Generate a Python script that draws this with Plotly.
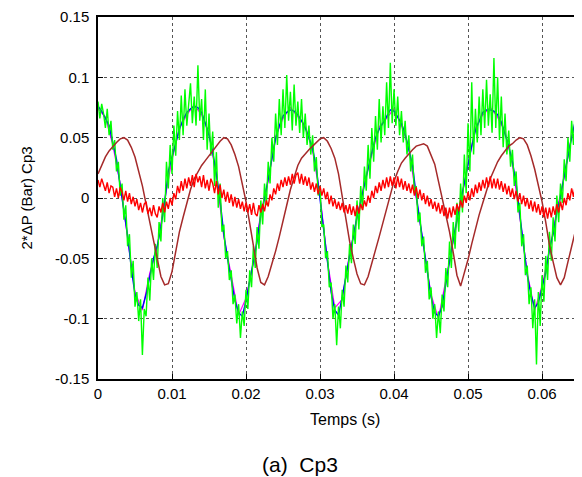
import plotly.graph_objects as go

# sampling steps (s)
DT_FINE = 0.00025
DT_MED = 0.0005
DT_COARSE = 0.001

# blue series (0.0005 s step)
blue_vals = [
    0.076, 0.072, 0.066, 0.060, 0.046, 0.032, 0.010, -0.010, -0.031, -0.058,
    -0.080, -0.089, -0.091, -0.080, -0.064, -0.050, -0.040, -0.024, -0.004, 0.022,
    0.034, 0.046, 0.057, 0.065, 0.071, 0.074, 0.076, 0.075, 0.071, 0.062,
    0.052, 0.038, 0.020, -0.002, -0.030, -0.050, -0.066, -0.085, -0.095, -0.098,
    -0.085, -0.068, -0.052, -0.036, -0.014, -0.001, 0.016, 0.034, 0.049, 0.060,
    0.068, 0.071, 0.073, 0.072, 0.069, 0.064, 0.058, 0.050, 0.041, 0.025,
    0.000, -0.030, -0.050, -0.078, -0.093, -0.097, -0.082, -0.064, -0.048, -0.032,
    -0.015, -0.003, 0.011, 0.026, 0.038, 0.050, 0.057, 0.062, 0.068, 0.073,
    0.072, 0.067, 0.062, 0.053, 0.040, 0.027, 0.002, -0.020, -0.040, -0.060,
    -0.082, -0.095, -0.098, -0.090, -0.070, -0.050, -0.034, -0.018, -0.003, 0.013,
    0.030, 0.043, 0.056, 0.064, 0.071, 0.073, 0.073, 0.072, 0.069, 0.063,
    0.053, 0.043, 0.030, 0.012, -0.014, -0.040, -0.064, -0.080, -0.091, -0.087,
    -0.075, -0.062, -0.042, -0.030, -0.012, 0.001, 0.019, 0.036, 0.050, 0.064,
    0.072, 0.076,
]

# magenta series (0.001 s step)
magenta_vals = [
    0.074, 0.067, 0.044, 0.012, -0.033, -0.078, -0.093, -0.062, -0.041, -0.002,
    0.032, 0.058, 0.069, 0.077, 0.069, 0.054, 0.018, -0.032, -0.064, -0.097,
    -0.083, -0.054, -0.012, 0.014, 0.051, 0.066, 0.075, 0.067, 0.060, 0.039,
    0.002, -0.052, -0.091, -0.084, -0.046, -0.017, 0.013, 0.036, 0.059, 0.066,
    0.074, 0.060, 0.042, 0.000, -0.042, -0.080, -0.100, -0.068, -0.036, -0.001,
    0.028, 0.058, 0.069, 0.075, 0.067, 0.055, 0.028, -0.016, -0.062, -0.093,
    -0.073, -0.044, -0.010, 0.017, 0.052, 0.070,
]

# green series (0.00025 s step)
green_vals = [
    0.080, 0.066, 0.078, 0.070, 0.058, 0.074, 0.052, 0.064, 0.040, 0.048,
    0.022, 0.030, 0.002, 0.012, -0.018, -0.006, -0.040, -0.030, -0.066, -0.052,
    -0.090, -0.078, -0.102, -0.084, -0.130, -0.092, -0.098, -0.066, -0.085, -0.050,
    -0.068, -0.038, -0.058, -0.020, -0.036, 0.000, -0.020, 0.030, 0.008, 0.044,
    0.020, 0.060, 0.035, 0.072, 0.048, 0.085, 0.052, 0.090, 0.060, 0.078,
    0.095, 0.062, 0.084, 0.060, 0.110, 0.064, 0.082, 0.048, 0.090, 0.040,
    0.070, 0.035, 0.055, 0.010, 0.038, -0.008, 0.012, -0.028, -0.022, -0.050,
    -0.044, -0.068, -0.060, -0.088, -0.080, -0.104, -0.088, -0.116, -0.094, -0.106,
    -0.076, -0.092, -0.060, -0.074, -0.040, -0.058, -0.024, -0.042, -0.002, -0.022,
    0.012, -0.006, 0.030, 0.012, 0.050, 0.030, 0.070, 0.044, 0.082, 0.052,
    0.090, 0.058, 0.102, 0.064, 0.088, 0.056, 0.094, 0.060, 0.080, 0.054,
    0.082, 0.050, 0.070, 0.044, 0.060, 0.036, 0.052, 0.022, 0.034, 0.002,
    0.010, -0.024, -0.022, -0.050, -0.044, -0.074, -0.070, -0.100, -0.088, -0.122,
    -0.090, -0.108, -0.076, -0.090, -0.056, -0.070, -0.038, -0.054, -0.022, -0.038,
    -0.002, -0.026, 0.010, -0.010, 0.026, 0.006, 0.044, 0.016, 0.058, 0.030,
    0.068, 0.040, 0.082, 0.046, 0.076, 0.052, 0.096, 0.058, 0.112, 0.062,
    0.090, 0.060, 0.084, 0.052, 0.072, 0.046, 0.064, 0.036, 0.052, 0.022,
    0.036, 0.004, 0.010, -0.020, -0.012, -0.040, -0.032, -0.062, -0.052, -0.084,
    -0.074, -0.100, -0.088, -0.116, -0.094, -0.112, -0.080, -0.094, -0.058, -0.074,
    -0.036, -0.058, -0.020, -0.042, -0.004, -0.028, 0.012, -0.012, 0.036, 0.004,
    0.062, 0.022, 0.096, 0.036, 0.074, 0.046, 0.084, 0.052, 0.090, 0.058,
    0.098, 0.060, 0.086, 0.054, 0.116, 0.058, 0.100, 0.048, 0.084, 0.042,
    0.070, 0.036, 0.056, 0.026, 0.040, 0.010, 0.022, -0.012, -0.004, -0.040,
    -0.030, -0.064, -0.056, -0.088, -0.074, -0.108, -0.084, -0.138, -0.078, -0.106,
    -0.064, -0.086, -0.048, -0.068, -0.028, -0.052, -0.016, -0.036, 0.002, -0.020,
    0.012, -0.004, 0.032, 0.014, 0.050, 0.030, 0.064, 0.044, 0.076, 0.056,
    0.084, 0.064, 0.080,
]

# brown series (0.0005 s step)
brown_vals = [
    0.020, 0.027, 0.034, 0.039, 0.043, 0.046, 0.049, 0.050, 0.048, 0.042,
    0.034, 0.022, 0.010, -0.005, -0.020, -0.036, -0.052, -0.065, -0.072, -0.071,
    -0.061, -0.044, -0.028, -0.016, -0.004, 0.007, 0.016, 0.022, 0.027, 0.031,
    0.035, 0.039, 0.044, 0.047, 0.050, 0.049, 0.044, 0.036, 0.026, 0.012,
    -0.003, -0.021, -0.040, -0.058, -0.070, -0.072, -0.065, -0.055, -0.044, -0.032,
    -0.020, -0.006, 0.007, 0.018, 0.027, 0.033, 0.037, 0.040, 0.043, 0.046,
    0.049, 0.050, 0.047, 0.041, 0.033, 0.020, 0.001, -0.020, -0.036, -0.050,
    -0.063, -0.071, -0.072, -0.065, -0.053, -0.043, -0.032, -0.020, -0.008, 0.003,
    0.014, 0.022, 0.029, 0.033, 0.037, 0.040, 0.043, 0.044, 0.045, 0.043,
    0.036, 0.028, 0.014, 0.000, -0.014, -0.028, -0.045, -0.064, -0.073, -0.063,
    -0.051, -0.038, -0.025, -0.014, -0.004, 0.006, 0.016, 0.023, 0.030, 0.035,
    0.039, 0.043, 0.045, 0.048, 0.050, 0.049, 0.044, 0.035, 0.024, 0.011,
    -0.003, -0.020, -0.039, -0.053, -0.066, -0.072, -0.066, -0.053, -0.040, -0.028,
    -0.014, -0.002,
]

# red series (0.00025 s step)
red_vals = [
    0.015, 0.009, 0.016, 0.011, 0.006, 0.013, 0.004, 0.010, 0.009, 0.001,
    0.008, 0.000, 0.009, 0.005, -0.002, 0.006, -0.003, 0.004, -0.005, 0.001,
    -0.007, -0.001, -0.010, -0.004, -0.012, -0.005, -0.003, -0.013, -0.008, -0.015,
    -0.006, -0.013, -0.016, -0.007, -0.012, -0.004, -0.012, -0.003, -0.009, 0.000,
    -0.006, 0.004, -0.001, 0.010, 0.004, 0.014, 0.006, 0.016, 0.008, 0.017,
    0.010, 0.019, 0.009, 0.020, 0.013, 0.018, 0.009, 0.019, 0.008, 0.015,
    0.006, 0.016, 0.012, 0.004, 0.014, 0.003, 0.011, 0.000, 0.007, -0.003,
    0.005, -0.004, 0.003, -0.007, 0.001, -0.008, -0.001, -0.009, -0.003, -0.011,
    -0.004, -0.012, -0.005, -0.014, -0.004, -0.013, -0.015, -0.006, -0.012, -0.005,
    -0.011, -0.002, -0.007, 0.003, -0.002, 0.008, 0.003, 0.012, 0.006, 0.015,
    0.009, 0.017, 0.010, 0.018, 0.011, 0.020, 0.012, 0.019, 0.021, 0.012,
    0.020, 0.011, 0.018, 0.010, 0.017, 0.007, 0.013, 0.005, 0.012, 0.003,
    0.010, 0.002, 0.008, -0.001, 0.005, -0.005, 0.002, -0.007, -0.001, -0.009,
    -0.003, -0.010, -0.004, -0.012, -0.006, -0.013, -0.005, -0.014, -0.007, -0.015,
    -0.006, -0.013, -0.005, -0.010, -0.002, -0.007, 0.002, -0.004, 0.006, 0.000,
    0.010, 0.004, 0.013, 0.006, 0.015, 0.008, 0.017, 0.009, 0.018, 0.010,
    0.017, 0.008, 0.018, 0.009, 0.016, 0.007, 0.014, 0.006, 0.012, 0.004,
    0.011, 0.002, 0.009, 0.000, 0.007, -0.002, 0.004, -0.005, 0.002, -0.007,
    -0.001, -0.009, -0.003, -0.011, -0.004, -0.013, -0.006, -0.015, -0.008, -0.017,
    -0.008, -0.016, -0.007, -0.014, -0.005, -0.011, -0.002, -0.008, 0.002, -0.004,
    0.005, -0.002, 0.008, 0.001, 0.011, 0.004, 0.013, 0.006, 0.015, 0.008,
    0.017, 0.009, 0.018, 0.008, 0.016, 0.008, 0.016, 0.007, 0.014, 0.005,
    0.012, 0.003, 0.010, 0.001, 0.008, -0.001, 0.006, -0.003, 0.004, -0.005,
    0.002, -0.007, 0.000, -0.009, -0.002, -0.011, -0.003, -0.012, -0.005, -0.014,
    -0.007, -0.016, -0.008, -0.017, -0.008, -0.016, -0.007, -0.014, -0.005, -0.012,
    -0.003, -0.010, 0.000, -0.006, 0.004, -0.002, 0.008, 0.001, 0.011, 0.004,
    0.014, 0.007, 0.017,
]

# axis ticks
x_tick_vals = [0, 0.01, 0.02, 0.03, 0.04, 0.05, 0.06]
x_tick_text = ["0", "0.01", "0.02", "0.03", "0.04", "0.05", "0.06"]
y_tick_vals = [-0.15, -0.1, -0.05, 0, 0.05, 0.1, 0.15]
y_tick_text = ["-0.15", "-0.1", "-0.05", "0", "0.05", "0.1", "0.15"]

x_title = "Temps (s)"
y_title = "2*ΔP (Bar) Cp3"
caption = "(a)\u00a0\u00a0Cp3"


def times(vals, dt):
    return [round(i * dt, 6) for i in range(len(vals))]


fig = go.Figure()
fig.add_trace(go.Scatter(x=times(magenta_vals, DT_COARSE), y=magenta_vals, mode="lines",
                         line=dict(color="#ff00ff", width=1.2), showlegend=False))
fig.add_trace(go.Scatter(x=times(blue_vals, DT_MED), y=blue_vals, mode="lines",
                         line=dict(color="#0000ff", width=1.4), showlegend=False))
fig.add_trace(go.Scatter(x=times(green_vals, DT_FINE), y=green_vals, mode="lines",
                         line=dict(color="#00ff00", width=1.4), showlegend=False))
fig.add_trace(go.Scatter(x=times(brown_vals, DT_MED), y=brown_vals, mode="lines",
                         line=dict(color="#a52a2a", width=1.5), showlegend=False))
fig.add_trace(go.Scatter(x=times(red_vals, DT_FINE), y=red_vals, mode="lines",
                         line=dict(color="#ff0000", width=1.4), showlegend=False))

FAMILY = "Liberation Sans, Arial, sans-serif"
tick_font = dict(family=FAMILY, size=15, color="#000000")

# the page body has an 8px margin, so the figure is 8px smaller than the window
fig.update_layout(
    width=574, height=469,
    margin=dict(l=90, r=0, t=6, b=98),
    paper_bgcolor="white", plot_bgcolor="white",
    font=tick_font,
    xaxis=dict(range=[0, 0.0654], tickvals=x_tick_vals, ticktext=x_tick_text,
               showgrid=True, gridcolor="#555555", griddash="dot", gridwidth=1,
               showline=True, linecolor="black", linewidth=1.5, mirror=True,
               ticks="inside", ticklen=5, tickcolor="black", zeroline=False,
               tickfont=tick_font, ticklabeloverflow="allow"),
    yaxis=dict(range=[-0.15, 0.15], tickvals=y_tick_vals, ticktext=y_tick_text,
               showgrid=True, gridcolor="#555555", griddash="dot", gridwidth=1,
               showline=True, linecolor="black", linewidth=1.5, mirror=False,
               ticks="inside", ticklen=5, tickcolor="black", zeroline=False,
               tickfont=tick_font, ticklabelstandoff=4, ticklabeloverflow="allow"),
    annotations=[
        dict(text=x_title, xref="paper", yref="paper", x=0.510, y=-0.112,
             showarrow=False, font=dict(family=FAMILY, size=16, color="black"),
             xanchor="center", yanchor="middle"),
        dict(text=y_title, xref="paper", yref="paper", x=-0.147, y=0.501,
             showarrow=False, font=dict(family=FAMILY, size=15, color="black"),
             textangle=-90, xanchor="center", yanchor="middle"),
        dict(text=caption, xref="paper", yref="paper", x=0.418, y=-0.236,
             showarrow=False, font=dict(family=FAMILY, size=21, color="black"),
             xanchor="center", yanchor="middle"),
    ],
)

fig.write_html("out.html")
